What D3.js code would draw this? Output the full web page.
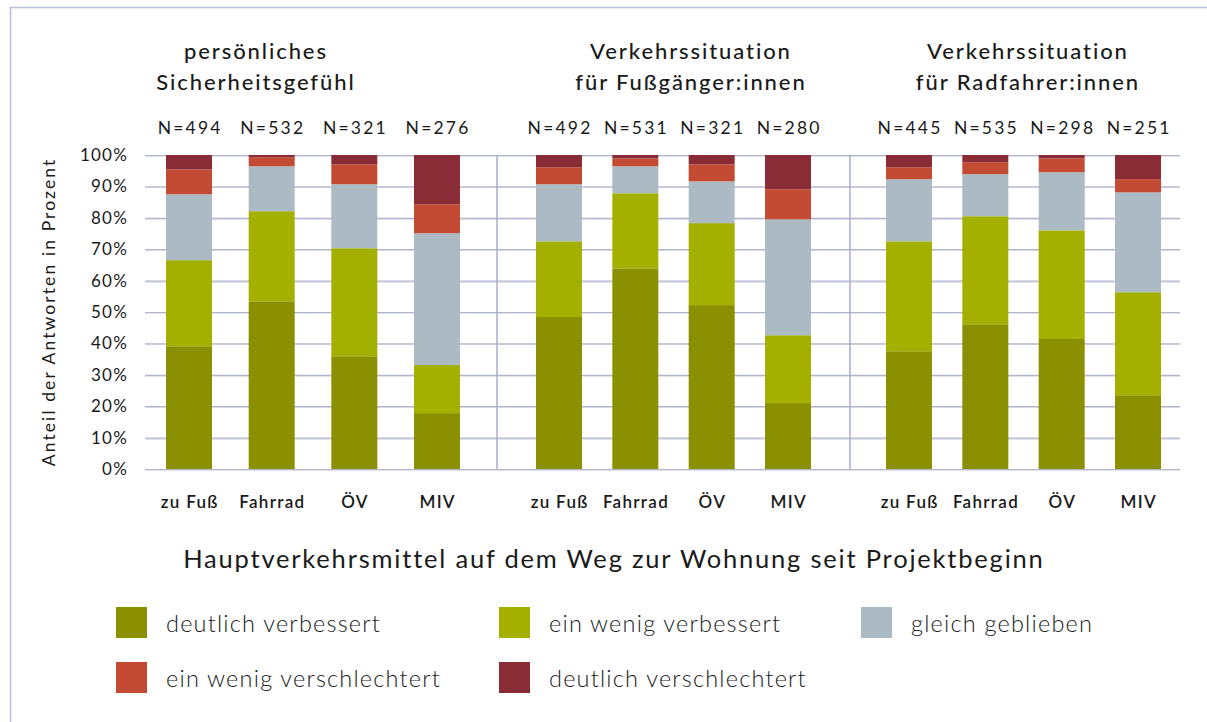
<!DOCTYPE html>
<html>
<head>
<meta charset="utf-8">
<script src="https://cdn.jsdelivr.net/npm/d3@7"></script>
<style>
  html, body { margin: 0; padding: 0; background: #fff; }
  svg { display: block; }
  text { font-family: "Lato", "Noto Sans", sans-serif; fill: #1a1a1a; }
</style>
</head>
<body>
<svg id="chart" width="1207" height="722"></svg>
<script>
// ---------- data ----------
const categories = ["zu Fuß", "Fahrrad", "ÖV", "MIV"];
const groupTitles = [
  ["persönliches", "Sicherheitsgefühl"],
  ["Verkehrssituation", "für Fußgänger:innen"],
  ["Verkehrssituation", "für Radfahrer:innen"]
];
const nLabels = [
  ["N=494", "N=532", "N=321", "N=276"],
  ["N=492", "N=531", "N=321", "N=280"],
  ["N=445", "N=535", "N=298", "N=251"]
];
const seriesNames = ["deutlich verbessert", "ein wenig verbessert", "gleich geblieben", "ein wenig verschlechtert", "deutlich verschlechtert"];
const seriesColors = ["#8a9000", "#a3b000", "#acbbc3", "#c44b33", "#892c36"];
// values per group, per category: [deutlich verb., wenig verb., gleich, wenig verschl., deutlich verschl.]
const sicherheit = [
  [39.1, 27.4, 21.0, 7.9, 4.6],
  [53.4, 28.7, 14.3, 2.9, 0.7],
  [35.9, 34.4, 20.4, 6.3, 3.0],
  [17.8, 15.3, 42.0, 9.2, 15.7]
];
const fussgaenger = [
  [48.4, 24.1, 18.2, 5.4, 3.9],
  [63.9, 23.9, 8.6, 2.5, 1.1],
  [52.2, 26.1, 13.3, 5.4, 3.0],
  [21.0, 21.6, 36.9, 9.6, 10.9]
];
const radfahrer = [
  [37.5, 35.0, 19.8, 3.8, 3.9],
  [46.1, 34.4, 13.4, 3.8, 2.3],
  [41.4, 34.6, 18.5, 4.4, 1.1],
  [23.5, 32.8, 31.8, 4.2, 7.7]
];
const yTicks = [0, 10, 20, 30, 40, 50, 60, 70, 80, 90, 100];
const yAxisTitle = "Anteil der Antworten in Prozent";
const xAxisTitle = "Hauptverkehrsmittel auf dem Weg zur Wohnung seit Projektbeginn";

// ---------- layout ----------
const svg = d3.select("#chart");
const plotLeft = 145, plotRight = 1180, plotTop = 155, plotBottom = 469;
const groupRanges = [[147.7, 478.3], [520.8, 826.2], [870.8, 1176.2]];
const separators = [497, 850];
const titleCenters = [255, 690, 1027];
const barWidth = 46;
const groups = [sicherheit, fussgaenger, radfahrer];

// centred text helper with letter spacing compensation
function spaced(sel, ls) {
  return sel.attr("letter-spacing", ls).attr("dx", ls / 2);
}

// frame
svg.append("line").attr("x1", 10.5).attr("x2", 10.5).attr("y1", 7).attr("y2", 722)
  .attr("stroke", "#b9c0d8").attr("stroke-width", 1.5);
svg.append("line").attr("x1", 10).attr("x2", 1207).attr("y1", 7.5).attr("y2", 7.5)
  .attr("stroke", "#b9c0d8").attr("stroke-width", 1.5);

const y = d3.scaleLinear().domain([0, 100]).range([plotBottom, plotTop]);

// gridlines (double line look)
svg.append("g").selectAll("line.gl").data(yTicks).join("line")
  .attr("x1", plotLeft).attr("x2", plotRight)
  .attr("y1", d => Math.round(y(d)) + 1.5).attr("y2", d => Math.round(y(d)) + 1.5)
  .attr("stroke", "#e1e3ec").attr("stroke-width", 1);
const yAxis = d3.axisLeft(y).tickValues(yTicks).tickFormat(d => d + "%")
  .tickSize(-(plotRight - plotLeft)).tickPadding(17);
const yg = svg.append("g").attr("transform", `translate(${plotLeft},0)`).call(yAxis);
yg.select(".domain").remove();
yg.selectAll(".tick line").attr("stroke", "#b2b6cd").attr("stroke-width", 1.2);
yg.selectAll(".tick text").attr("font-size", 17).attr("fill", "#1a1a1a")
  .attr("letter-spacing", 1.2)
  .style("font-family", "Lato, sans-serif");

// separators
svg.append("g").selectAll("line").data(separators).join("line")
  .attr("x1", d => d).attr("x2", d => d).attr("y1", plotTop).attr("y2", plotBottom)
  .attr("stroke", "#a9aec9").attr("stroke-width", 1.5);

// bars
const stack = d3.stack().keys(d3.range(seriesNames.length)).value((row, k) => row[k]);
groups.forEach((data, gi) => {
  const x = d3.scaleBand().domain(categories).range(groupRanges[gi]).paddingInner(0).paddingOuter(0);
  const rows = data.map((r, i) => Object.assign(r.slice(), { cat: categories[i] }));
  const layers = stack(rows);
  const g = svg.append("g");
  layers.forEach((layer, si) => {
    g.selectAll(null).data(layer).join("rect")
      .attr("x", d => x(d.data.cat) + (x.bandwidth() - barWidth) / 2)
      .attr("width", barWidth)
      .attr("y", d => y(d[1]))
      .attr("height", d => y(d[0]) - y(d[1]))
      .attr("fill", seriesColors[si]);
  });
  // category labels
  spaced(g.selectAll(null).data(categories).join("text")
    .attr("x", d => x(d) + x.bandwidth() / 2).attr("y", 501)
    .attr("text-anchor", "middle").attr("dominant-baseline", "central")
    .attr("font-size", 17).attr("font-weight", 600), 1.3)
    .text(d => d);
  // N labels
  spaced(g.selectAll(null).data(nLabels[gi]).join("text")
    .attr("x", (d, i) => x(categories[i]) + x.bandwidth() / 2).attr("y", 127)
    .attr("text-anchor", "middle").attr("dominant-baseline", "central")
    .attr("font-size", 17.5), 2.2)
    .text(d => d);
  // group titles
  spaced(g.selectAll(null).data(groupTitles[gi]).join("text")
    .attr("x", titleCenters[gi]).attr("y", (d, i) => 50 + i * 31)
    .attr("text-anchor", "middle").attr("dominant-baseline", "central")
    .attr("font-size", 22).attr("font-weight", 500), 1.9)
    .text(d => d);
});

// axis titles
svg.append("text")
  .attr("transform", `translate(48,${(plotTop + plotBottom) / 2 + 1}) rotate(-90)`)
  .attr("text-anchor", "middle").attr("dominant-baseline", "central")
  .attr("font-size", 17.5).attr("letter-spacing", 2.1).attr("dx", 1.05)
  .text(yAxisTitle);
spaced(svg.append("text")
  .attr("x", 613).attr("y", 558)
  .attr("text-anchor", "middle").attr("dominant-baseline", "central")
  .attr("font-size", 25.5), 1.8)
  .text(xAxisTitle);

// legend
const legendPos = [[116, 607], [499, 607], [861, 607], [116, 662], [499, 662]];
const lg = svg.append("g").selectAll("g").data(seriesNames).join("g")
  .attr("transform", (d, i) => `translate(${legendPos[i][0]},${legendPos[i][1]})`);
lg.append("rect").attr("width", 31).attr("height", 31).attr("fill", (d, i) => seriesColors[i]);
lg.append("text").attr("x", 50).attr("y", 16).attr("dominant-baseline", "central")
  .attr("font-size", 23.5).attr("font-weight", 300).attr("letter-spacing", 1.2)
  .text(d => d);
</script>
</body>
</html>
